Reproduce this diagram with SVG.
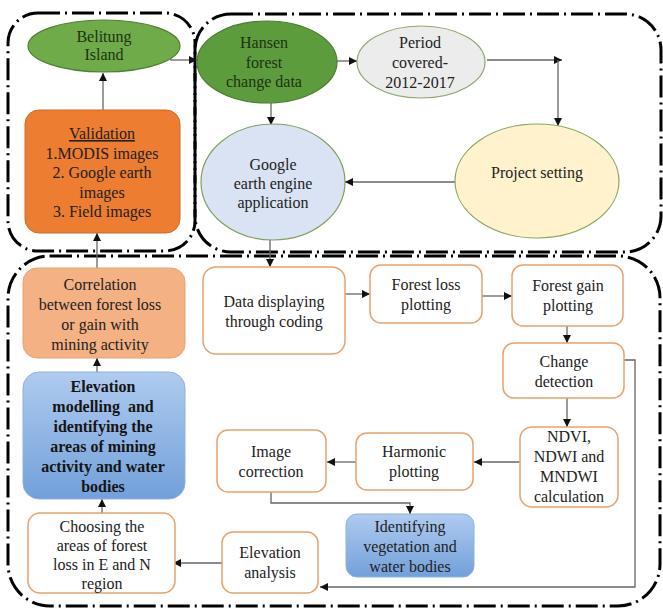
<svg xmlns="http://www.w3.org/2000/svg" width="663" height="609" viewBox="0 0 663 609">
<defs>
<marker id="ah" markerUnits="userSpaceOnUse" markerWidth="9" markerHeight="8" refX="8" refY="4" orient="auto">
<path d="M0,0 L8,4 L0,8 Z" fill="#111"/>
</marker>
<linearGradient id="blue" x1="0" y1="0" x2="0" y2="1">
<stop offset="0" stop-color="#afcbef"/>
<stop offset="1" stop-color="#72a0da"/>
</linearGradient>
<style>
text{font-family:"Liberation Serif","Times New Roman",serif;font-size:16px;fill:#222;text-anchor:middle}
.g text{fill:#1d3312}
.b text{font-weight:bold;fill:#151515}
.frame{fill:none;stroke:#000;stroke-width:3;stroke-dasharray:22 5 2 5}
.box{fill:#fff;stroke:#e9a26a;stroke-width:1.5}
.con{fill:none;stroke:#666;stroke-width:1.3;marker-end:url(#ah)}
</style>
</defs>
<rect width="663" height="609" fill="#fff"/>
<g id="frames">
<rect class="frame" x="8" y="13" width="187" height="238" rx="30"/>
<rect class="frame" x="195" y="14" width="466" height="238" rx="36"/>
<rect class="frame" x="8" y="256" width="652" height="350" rx="42"/>
</g>
<g id="connectors">
<line class="con" x1="103" y1="110" x2="103" y2="73"/>
<line class="con" x1="97" y1="268" x2="97" y2="233"/>
<line class="con" x1="170" y1="60" x2="197" y2="60"/>
<line class="con" x1="337" y1="61" x2="357" y2="61"/>
<line class="con" x1="487" y1="60" x2="562" y2="60"/>
<line class="con" x1="558" y1="60" x2="558" y2="126"/>
<line class="con" x1="271" y1="103" x2="271" y2="125"/>
<line class="con" x1="455" y1="182" x2="345" y2="182"/>
<line class="con" x1="270" y1="240" x2="270" y2="267"/>
<line class="con" x1="345" y1="294" x2="370" y2="294"/>
<line class="con" x1="482" y1="296" x2="512" y2="296"/>
<line class="con" x1="567" y1="326" x2="567" y2="343"/>
<line class="con" x1="567" y1="398" x2="567" y2="427"/>
<line class="con" x1="520" y1="462" x2="474" y2="462"/>
<line class="con" x1="356" y1="462" x2="327" y2="462"/>
<path class="con" d="M271,492 V503 H410 V514"/>
<path class="con" d="M624,360 H635 V587 H320"/>
<line class="con" x1="222" y1="563" x2="173" y2="563"/>
<line class="con" x1="102" y1="513" x2="102" y2="499"/>
<line class="con" x1="97" y1="372" x2="97" y2="358"/>
</g>
<g id="belitung" class="g">
<ellipse cx="104" cy="46" rx="76" ry="26" fill="#6fab48" stroke="#527f35" stroke-width="1.2"/>
<text x="104" y="42">Belitung</text>
<text x="104" y="60">Island</text>
</g>
<g id="validation">
<rect x="25" y="110" width="155" height="123" rx="14" fill="#ed7d31" stroke="#d06a26" stroke-width="1"/>
<text x="102" y="139" text-decoration="underline" fill="#2b1a10">Validation</text>
<text x="102" y="159" fill="#2b1a10">1.MODIS images</text>
<text x="102" y="178" fill="#2b1a10">2. Google earth</text>
<text x="102" y="198" fill="#2b1a10">images</text>
<text x="102" y="217" fill="#2b1a10">3. Field images</text>
</g>
<g id="hansen" class="g">
<ellipse cx="267" cy="62" rx="70" ry="41" fill="#5c9c3c" stroke="#4a7d2f" stroke-width="1.2"/>
<text x="264" y="48">Hansen</text>
<text x="264" y="68">forest</text>
<text x="264" y="87">change data</text>
</g>
<g id="period">
<ellipse cx="421" cy="62" rx="64" ry="36" fill="#ececec" stroke="#8fa870" stroke-width="1.2"/>
<text x="420" y="48">Period</text>
<text x="420" y="68">covered-</text>
<text x="420" y="88">2012-2017</text>
</g>
<g id="google">
<ellipse cx="273" cy="182" rx="72" ry="58" fill="#dae3f3" stroke="#7fa05c" stroke-width="1.2"/>
<text x="273" y="170">Google</text>
<text x="273" y="189">earth engine</text>
<text x="273" y="208">application</text>
</g>
<g id="project">
<ellipse cx="537" cy="181" rx="82" ry="57" fill="#fff2cc" stroke="#8aa860" stroke-width="1.2"/>
<text x="537" y="178">Project setting</text>
</g>
<g id="data-displaying">
<rect class="box" x="203" y="267" width="142" height="87" rx="13"/>
<text x="274" y="307">Data displaying</text>
<text x="274" y="327">through coding</text>
</g>
<g id="forest-loss">
<rect class="box" x="370" y="265" width="112" height="58" rx="11"/>
<text x="426" y="290">Forest loss</text>
<text x="426" y="310">plotting</text>
</g>
<g id="forest-gain">
<rect class="box" x="512" y="265" width="111" height="61" rx="11"/>
<text x="568" y="291">Forest gain</text>
<text x="568" y="311">plotting</text>
</g>
<g id="change-detection">
<rect class="box" x="503" y="343" width="121" height="55" rx="11"/>
<text x="564" y="367">Change</text>
<text x="564" y="387">detection</text>
</g>
<g id="ndvi">
<rect class="box" x="520" y="427" width="98" height="80" rx="12"/>
<text x="569" y="442">NDVI,</text>
<text x="569" y="462">NDWI and</text>
<text x="569" y="482">MNDWI</text>
<text x="569" y="502">calculation</text>
</g>
<g id="harmonic">
<rect class="box" x="356" y="433" width="117" height="57" rx="11"/>
<text x="414" y="457">Harmonic</text>
<text x="414" y="477">plotting</text>
</g>
<g id="image-correction">
<rect class="box" x="217" y="430" width="109" height="62" rx="11"/>
<text x="271" y="457">Image</text>
<text x="271" y="477">correction</text>
</g>
<g id="identifying">
<rect x="346" y="514" width="128" height="63" rx="11" fill="url(#blue)" stroke="#8fb2df" stroke-width="1"/>
<text x="410" y="532">Identifying</text>
<text x="410" y="552">vegetation and</text>
<text x="410" y="572">water bodies</text>
</g>
<g id="elevation-analysis">
<rect class="box" x="222" y="532" width="96" height="61" rx="11"/>
<text x="270" y="558">Elevation</text>
<text x="270" y="578">analysis</text>
</g>
<g id="choosing">
<rect class="box" x="28" y="513" width="147" height="80" rx="12"/>
<text x="102" y="532">Choosing the</text>
<text x="102" y="551">areas of forest</text>
<text x="102" y="570">loss in E and N</text>
<text x="102" y="589">region</text>
</g>
<g id="elevation-modelling" class="b">
<rect x="23" y="372" width="162" height="127" rx="16" fill="url(#blue)" stroke="#8fb2df" stroke-width="1"/>
<text x="103" y="392">Elevation</text>
<text x="103" y="412" xml:space="preserve">modelling  and</text>
<text x="103" y="432">identifying the</text>
<text x="103" y="452">areas of mining</text>
<text x="103" y="472">activity and water</text>
<text x="103" y="492">bodies</text>
</g>
<g id="correlation">
<rect x="23" y="268" width="162" height="90" rx="14" fill="#f4b183" stroke="#eaa170" stroke-width="1"/>
<text x="100" y="290">Correlation</text>
<text x="100" y="310">between forest loss</text>
<text x="100" y="330">or gain with</text>
<text x="100" y="350">mining activity</text>
</g>
</svg>
